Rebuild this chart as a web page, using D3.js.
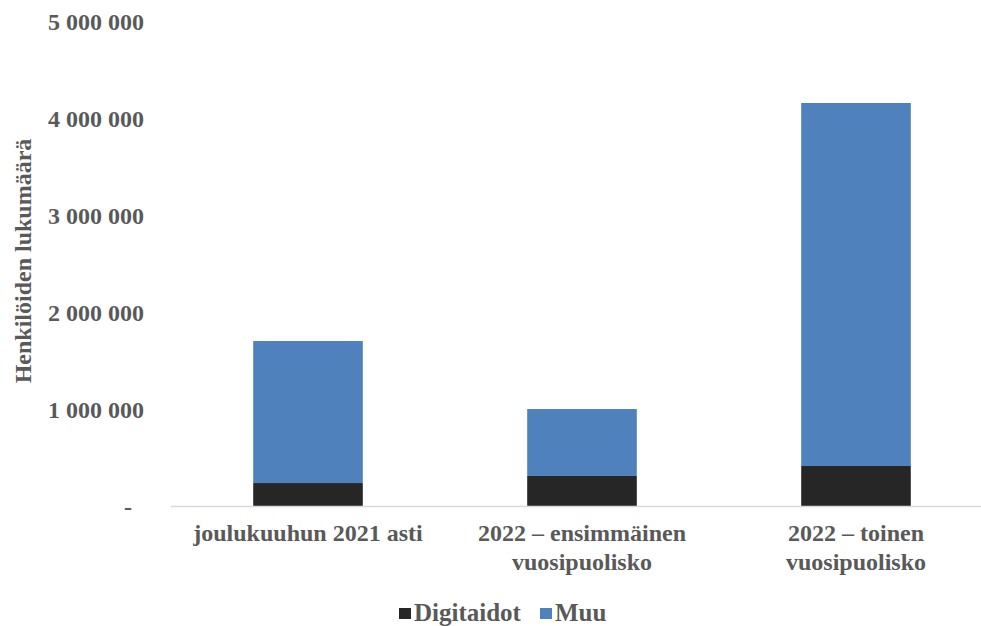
<!DOCTYPE html>
<html>
<head>
<meta charset="utf-8">
<script src="https://cdn.jsdelivr.net/npm/d3@7"></script>
<style>
    body { margin: 0; background: #fff; }
    #chart { width: 981px; height: 626px; }
    text { font-family: "Liberation Serif", "Times New Roman", serif; font-weight: bold; fill: #595959; }
</style>
</head>
<body>
<div id="chart"></div>
<script>
const categories = [
    ["joulukuuhun 2021 asti"],
    ["2022 – ensimmäinen", "vuosipuolisko"],
    ["2022 – toinen", "vuosipuolisko"]
];
const seriesNames = ["Digitaidot", "Muu"];
const digitaidot = [247000, 320000, 423000];
const muu = [1464000, 690000, 3742000];
const yTicks = [0, 1000000, 2000000, 3000000, 4000000, 5000000];
const colors = ["#262626", "#4f81bd"];

const width = 981, height = 626;

const svg = d3.select("#chart").append("svg")
    .attr("width", width)
    .attr("height", height);

const x = d3.scaleBand()
    .domain(d3.range(categories.length))
    .range([171, 993])
    .paddingInner(0.6)
    .paddingOuter(0.3);

const y = d3.scaleLinear().domain([0, 5000000]).range([507, 22]);

const rows = categories.map((c, i) => ({i: i, Digitaidot: digitaidot[i], Muu: muu[i]}));
const stacked = d3.stack().keys(seriesNames)(rows);

// bars
svg.selectAll(".series")
    .data(stacked)
    .enter()
    .append("g")
    .attr("fill", (d, i) => colors[i])
    .selectAll("rect")
    .data(d => d)
    .enter()
    .append("rect")
    .attr("x", d => x(d.data.i))
    .attr("y", d => y(d[1]))
    .attr("width", x.bandwidth())
    .attr("height", d => y(d[0]) - y(d[1]));

// x axis line
svg.append("line")
    .attr("x1", 171).attr("x2", width)
    .attr("y1", y(0) - 0.5).attr("y2", y(0) - 0.5)
    .attr("stroke", "#d9d9d9")
    .attr("stroke-width", 1.5);

// y tick labels
const fmt = v => v === 0 ? "-" : d3.format(",")(v).replace(/,/g, " ");
svg.selectAll(".ytick")
    .data(yTicks)
    .enter()
    .append("text")
    .attr("x", d => d === 0 ? 132 : 144)
    .attr("y", d => y(d))
    .attr("dy", "0.35em")
    .attr("text-anchor", "end")
    .style("font-size", "24px")
    .text(fmt);

// x labels
const xl = svg.selectAll(".xlabel")
    .data(categories)
    .enter()
    .append("text")
    .attr("text-anchor", "middle")
    .style("font-size", "24px");
xl.selectAll("tspan")
    .data((d, i) => d.map(t => ({t: t, i: i})))
    .enter()
    .append("tspan")
    .attr("x", d => x(d.i) + x.bandwidth() / 2)
    .attr("y", (d, j) => 541 + j * 29)
    .text(d => d.t);

// y axis title
svg.append("text")
    .attr("transform", "translate(31,261) rotate(-90)")
    .attr("text-anchor", "middle")
    .style("font-size", "24px")
    .text("Henkilöiden lukumäärä");

// legend
const legendX = [399, 540];
const lg = svg.selectAll(".legend")
    .data(seriesNames)
    .enter()
    .append("g")
    .attr("transform", (d, i) => "translate(" + legendX[i] + ",621)");
lg.append("rect")
    .attr("x", 0).attr("y", -13)
    .attr("width", 12).attr("height", 11)
    .attr("fill", (d, i) => colors[i]);
lg.append("text")
    .attr("x", 15)
    .style("font-size", "25px")
    .text(d => d);
</script>
</body>
</html>
